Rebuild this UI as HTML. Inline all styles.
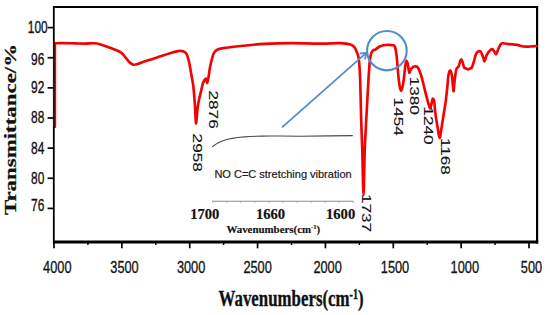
<!DOCTYPE html>
<html><head><meta charset="utf-8"><style>
html,body{margin:0;padding:0;background:#fff;width:550px;height:315px;overflow:hidden;}
svg{display:block;}
</style></head><body>
<svg width="550" height="315" viewBox="0 0 550 315">
<style>
.tk{font-family:"Liberation Sans",sans-serif;font-size:16.8px;fill:#111;stroke:#111;stroke-width:0.35px;}
.tkx{font-family:"Liberation Sans",sans-serif;font-size:17.3px;fill:#111;stroke:#111;stroke-width:0.3px;}
.rl{font-family:"Liberation Sans",sans-serif;font-size:17.2px;fill:#111;stroke:#111;stroke-width:0.15px;}
.ins{font-family:"Liberation Sans",sans-serif;font-size:11px;fill:#1a1a1a;stroke:#1a1a1a;stroke-width:0.2px;}
.insb{font-family:"Liberation Serif",serif;font-weight:bold;font-size:14.6px;fill:#111;stroke:#111;stroke-width:0.2px;}
.insl{font-family:"Liberation Serif",serif;font-weight:bold;font-size:10.9px;fill:#111;stroke:#111;stroke-width:0.15px;}
.ax{font-family:"Liberation Serif",serif;font-weight:bold;fill:#111;stroke:#111;stroke-width:0.35px;}
</style>
<rect width="550" height="315" fill="#fff"/>
<path d="M212.3,146.70 L214.0,145.42 L216.0,144.11 L218.0,142.98 L220.0,142.01 L223.0,140.79 L226.0,139.81 L229.0,139.03 L232.0,138.41 L236.0,137.77 L240.0,137.29 L245.0,136.86 L250.0,136.56 L256.0,136.32 L262.0,136.17 L270.0,136.05 L280.0,135.97 L300.0,136.20 L330.0,135.90 L352.8,135.60" fill="none" stroke="#4a4a4a" stroke-width="1.1"/><line x1="212.2" y1="201.3" x2="353.4" y2="201.3" stroke="#8a8a8a" stroke-width="1.1"/><line x1="212.60" y1="201.3" x2="212.60" y2="202.8" stroke="#999" stroke-width="0.9"/><line x1="226.68" y1="201.3" x2="226.68" y2="202.8" stroke="#999" stroke-width="0.9"/><line x1="240.76" y1="201.3" x2="240.76" y2="202.8" stroke="#999" stroke-width="0.9"/><line x1="254.84" y1="201.3" x2="254.84" y2="202.8" stroke="#999" stroke-width="0.9"/><line x1="268.92" y1="201.3" x2="268.92" y2="202.8" stroke="#999" stroke-width="0.9"/><line x1="283.00" y1="201.3" x2="283.00" y2="202.8" stroke="#999" stroke-width="0.9"/><line x1="297.08" y1="201.3" x2="297.08" y2="202.8" stroke="#999" stroke-width="0.9"/><line x1="311.16" y1="201.3" x2="311.16" y2="202.8" stroke="#999" stroke-width="0.9"/><line x1="325.24" y1="201.3" x2="325.24" y2="202.8" stroke="#999" stroke-width="0.9"/><line x1="339.32" y1="201.3" x2="339.32" y2="202.8" stroke="#999" stroke-width="0.9"/><line x1="353.40" y1="201.3" x2="353.40" y2="202.8" stroke="#999" stroke-width="0.9"/><text x="214.4" y="177.5" class="ins">NO C=C stretching vibration</text><text x="190.2" y="218.6" class="insb">1700</text><text x="255.9" y="218.6" class="insb">1660</text><text x="326.0" y="218.6" class="insb">1600</text><text x="226.4" y="232.6" class="insl">Wavenumbers(cm<tspan dy="-3.4" font-size="6.6">-1</tspan><tspan dy="3.4">)</tspan></text>
<line x1="54" y1="7" x2="537" y2="7" stroke="#000" stroke-width="2.2"/>
<line x1="53.8" y1="6" x2="53.8" y2="243.5" stroke="#000" stroke-width="1.8"/>
<line x1="537.1" y1="6" x2="537.1" y2="243.5" stroke="#000" stroke-width="2.2"/>
<line x1="53" y1="242.1" x2="538.2" y2="242.1" stroke="#000" stroke-width="3"/>
<line x1="55.0" y1="43.30" x2="55.0" y2="127.3" stroke="#f20202" stroke-width="2.4"/>
<path d="M55.60,43.30 C56.67,43.27 58.77,43.08 62.00,43.10 C65.23,43.12 71.17,43.32 75.00,43.40 C78.83,43.48 81.83,43.62 85.00,43.60 C88.17,43.58 91.50,43.18 94.00,43.30 C96.50,43.42 97.33,43.55 100.00,44.30 C102.67,45.05 106.50,46.42 110.00,47.80 C113.50,49.18 118.33,50.88 121.00,52.60 C123.67,54.32 124.58,56.48 126.00,58.10 C127.42,59.72 128.33,61.22 129.50,62.30 C130.67,63.38 131.75,64.27 133.00,64.60 C134.25,64.93 135.00,64.85 137.00,64.30 C139.00,63.75 141.33,62.55 145.00,61.30 C148.67,60.05 154.83,58.13 159.00,56.80 C163.17,55.47 166.83,54.25 170.00,53.30 C173.17,52.35 175.73,51.42 178.00,51.10 C180.27,50.78 182.18,50.95 183.60,51.40 C185.02,51.85 185.63,52.23 186.50,53.80 C187.37,55.37 188.10,57.93 188.80,60.80 C189.50,63.67 189.95,66.77 190.70,71.00 C191.45,75.23 192.60,80.57 193.30,86.20 C194.00,91.83 194.45,98.60 194.90,104.80 C195.35,111.00 195.57,122.73 196.00,123.40 C196.43,124.07 197.00,112.73 197.50,108.80 C198.00,104.87 198.43,102.63 199.00,99.80 C199.57,96.97 200.27,94.48 200.90,91.80 C201.53,89.12 202.17,85.68 202.80,83.70 C203.43,81.72 204.17,80.75 204.70,79.90 C205.23,79.05 205.58,78.12 206.00,78.60 C206.42,79.08 206.78,83.02 207.20,82.80 C207.62,82.58 208.07,79.70 208.50,77.30 C208.93,74.90 209.27,71.32 209.80,68.40 C210.33,65.48 210.98,62.43 211.70,59.80 C212.42,57.17 213.02,54.35 214.10,52.60 C215.18,50.85 216.15,50.12 218.20,49.30 C220.25,48.48 222.32,48.28 226.40,47.70 C230.48,47.12 236.35,46.43 242.70,45.80 C249.05,45.17 256.32,44.35 264.50,43.90 C272.68,43.45 282.72,43.15 291.80,43.10 C300.88,43.05 310.82,43.60 319.00,43.60 C327.18,43.60 335.67,42.97 340.90,43.10 C346.13,43.23 348.13,43.72 350.40,44.40 C352.67,45.08 353.32,45.63 354.50,47.20 C355.68,48.77 356.75,51.53 357.50,53.80 C358.25,56.07 358.55,56.30 359.00,60.80 C359.45,65.30 359.83,70.80 360.20,80.80 C360.57,90.80 360.85,109.13 361.20,120.80 C361.55,132.47 361.92,138.47 362.30,150.80 C362.68,163.13 363.10,194.80 363.50,194.80 C363.90,194.80 364.25,163.13 364.70,150.80 C365.15,138.47 365.77,129.13 366.20,120.80 C366.63,112.47 366.93,107.47 367.30,100.80 C367.67,94.13 367.98,87.47 368.40,80.80 C368.82,74.13 369.33,65.38 369.80,60.80 C370.27,56.22 370.63,55.08 371.20,53.30 C371.77,51.52 372.57,50.68 373.20,50.10 C373.83,49.52 373.92,50.40 375.00,49.80 C376.08,49.20 377.97,47.30 379.70,46.50 C381.43,45.70 383.18,45.22 385.40,45.00 C387.62,44.78 391.40,44.87 393.00,45.20 C394.60,45.53 394.40,45.23 395.00,47.00 C395.60,48.77 396.12,51.83 396.60,55.80 C397.08,59.77 397.52,66.63 397.90,70.80 C398.28,74.97 398.58,78.13 398.90,80.80 C399.22,83.47 399.43,85.13 399.80,86.80 C400.17,88.47 400.63,90.85 401.10,90.80 C401.57,90.75 402.18,88.17 402.60,86.50 C403.02,84.83 403.28,83.08 403.60,80.80 C403.92,78.52 404.18,75.47 404.50,72.80 C404.82,70.13 405.15,66.80 405.50,64.80 C405.85,62.80 406.20,60.87 406.60,60.80 C407.00,60.73 407.57,62.98 407.90,64.40 C408.23,65.82 408.37,67.90 408.60,69.30 C408.83,70.70 409.02,72.63 409.30,72.80 C409.58,72.97 409.92,71.05 410.30,70.30 C410.68,69.55 411.15,68.83 411.60,68.30 C412.05,67.77 412.43,67.43 413.00,67.10 C413.57,66.77 414.17,66.18 415.00,66.30 C415.83,66.42 416.95,66.18 418.00,67.80 C419.05,69.42 420.32,72.95 421.30,76.00 C422.28,79.05 423.05,82.73 423.90,86.10 C424.75,89.47 425.57,93.03 426.40,96.20 C427.23,99.37 428.25,103.08 428.90,105.10 C429.55,107.12 429.87,108.52 430.30,108.30 C430.73,108.08 431.10,105.38 431.50,103.80 C431.90,102.22 432.25,99.22 432.70,98.80 C433.15,98.38 433.77,98.97 434.20,101.30 C434.63,103.63 434.75,108.55 435.30,112.80 C435.85,117.05 436.78,122.63 437.50,126.80 C438.22,130.97 438.95,137.47 439.60,137.80 C440.25,138.13 440.68,132.97 441.40,128.80 C442.12,124.63 443.17,117.47 443.90,112.80 C444.63,108.13 445.22,105.27 445.80,100.80 C446.38,96.33 446.97,90.22 447.40,86.00 C447.83,81.78 447.95,78.12 448.40,75.50 C448.85,72.88 449.52,70.30 450.10,70.30 C450.68,70.30 451.43,72.88 451.90,75.50 C452.37,78.12 452.62,83.40 452.90,86.00 C453.18,88.60 453.32,91.97 453.60,91.10 C453.88,90.23 454.18,84.27 454.60,80.80 C455.02,77.33 455.62,72.50 456.10,70.30 C456.58,68.10 457.03,68.33 457.50,67.60 C457.97,66.87 458.47,66.92 458.90,65.90 C459.33,64.88 459.70,62.58 460.10,61.50 C460.50,60.42 460.87,59.25 461.30,59.40 C461.73,59.55 462.23,61.03 462.70,62.40 C463.17,63.77 463.52,66.58 464.10,67.60 C464.68,68.62 465.57,68.20 466.20,68.50 C466.83,68.80 467.27,69.40 467.90,69.40 C468.53,69.40 469.35,68.80 470.00,68.50 C470.65,68.20 471.12,68.92 471.80,67.60 C472.48,66.28 473.43,62.78 474.10,60.60 C474.77,58.42 475.22,55.95 475.80,54.50 C476.38,53.05 476.78,52.38 477.60,51.90 C478.42,51.42 479.77,50.67 480.70,51.60 C481.63,52.53 482.57,55.88 483.20,57.50 C483.83,59.12 483.98,61.52 484.50,61.30 C485.02,61.08 485.67,57.68 486.30,56.20 C486.93,54.72 487.33,53.58 488.30,52.40 C489.27,51.22 491.08,49.20 492.10,49.10 C493.12,49.00 493.72,50.97 494.40,51.80 C495.08,52.63 495.57,54.52 496.20,54.10 C496.83,53.68 497.52,50.83 498.20,49.30 C498.88,47.77 499.55,45.90 500.30,44.90 C501.05,43.90 501.25,43.43 502.70,43.30 C504.15,43.17 506.62,43.83 509.00,44.10 C511.38,44.37 514.60,44.50 517.00,44.90 C519.40,45.30 521.28,46.23 523.40,46.50 C525.52,46.77 527.52,46.58 529.70,46.50 C531.88,46.42 535.37,46.08 536.50,46.00" fill="none" stroke="#f20202" stroke-width="2.65" stroke-linejoin="round" stroke-linecap="round"/>
<line x1="54.1" y1="41.6" x2="54.1" y2="127.3" stroke="#550a0a" stroke-width="2.0"/>
<path d="M53.6,126.6 L56.2,127.2 L53.6,128.6 Z" fill="#1a0202"/>
<ellipse cx="386.9" cy="50.65" rx="19.8" ry="19.7" fill="none" stroke="#518dc8" stroke-width="2.1"/>
<line x1="282.0" y1="127.3" x2="365.45" y2="53.66" stroke="#518dc8" stroke-width="1.8"/><path d="M359.71,53.39 L366.20,53.00 L365.01,59.39" fill="none" stroke="#518dc8" stroke-width="1.8" stroke-linejoin="miter"/>
<line x1="47.6" y1="27.60" x2="54" y2="27.60" stroke="#000" stroke-width="1.7"/><text transform="translate(37.7,33.10) scale(0.71,1)" text-anchor="middle" class="tk">100</text><line x1="47.6" y1="57.73" x2="54" y2="57.73" stroke="#000" stroke-width="1.7"/><text transform="translate(37.7,64.60) scale(0.71,1)" text-anchor="middle" class="tk">96</text><line x1="47.6" y1="87.86" x2="54" y2="87.86" stroke="#000" stroke-width="1.7"/><text transform="translate(37.7,93.35) scale(0.71,1)" text-anchor="middle" class="tk">92</text><line x1="47.6" y1="118.00" x2="54" y2="118.00" stroke="#000" stroke-width="1.7"/><text transform="translate(37.7,123.00) scale(0.71,1)" text-anchor="middle" class="tk">88</text><line x1="47.6" y1="148.13" x2="54" y2="148.13" stroke="#000" stroke-width="1.7"/><text transform="translate(37.7,154.20) scale(0.71,1)" text-anchor="middle" class="tk">84</text><line x1="47.6" y1="178.26" x2="54" y2="178.26" stroke="#000" stroke-width="1.7"/><text transform="translate(37.7,184.00) scale(0.71,1)" text-anchor="middle" class="tk">80</text><line x1="47.6" y1="208.39" x2="54" y2="208.39" stroke="#000" stroke-width="1.7"/><text transform="translate(37.7,211.40) scale(0.71,1)" text-anchor="middle" class="tk">76</text><line x1="54.00" y1="242" x2="54.00" y2="248.3" stroke="#000" stroke-width="1.7"/><text transform="translate(57.30,273.3) scale(0.74,1)" text-anchor="middle" class="tkx">4000</text><line x1="121.86" y1="242" x2="121.86" y2="248.3" stroke="#000" stroke-width="1.7"/><text transform="translate(124.50,273.3) scale(0.74,1)" text-anchor="middle" class="tkx">3500</text><line x1="189.71" y1="242" x2="189.71" y2="248.3" stroke="#000" stroke-width="1.7"/><text transform="translate(191.10,273.3) scale(0.74,1)" text-anchor="middle" class="tkx">3000</text><line x1="257.57" y1="242" x2="257.57" y2="248.3" stroke="#000" stroke-width="1.7"/><text transform="translate(257.60,273.3) scale(0.74,1)" text-anchor="middle" class="tkx">2500</text><line x1="325.43" y1="242" x2="325.43" y2="248.3" stroke="#000" stroke-width="1.7"/><text transform="translate(327.60,273.3) scale(0.74,1)" text-anchor="middle" class="tkx">2000</text><line x1="393.29" y1="242" x2="393.29" y2="248.3" stroke="#000" stroke-width="1.7"/><text transform="translate(395.00,273.3) scale(0.74,1)" text-anchor="middle" class="tkx">1500</text><line x1="461.14" y1="242" x2="461.14" y2="248.3" stroke="#000" stroke-width="1.7"/><text transform="translate(464.80,273.3) scale(0.74,1)" text-anchor="middle" class="tkx">1000</text><line x1="529.00" y1="242" x2="529.00" y2="248.3" stroke="#000" stroke-width="1.7"/><text transform="translate(531.50,273.3) scale(0.74,1)" text-anchor="middle" class="tkx">500</text><line x1="87.93" y1="242" x2="87.93" y2="245" stroke="#000" stroke-width="1.4"/><line x1="155.79" y1="242" x2="155.79" y2="245" stroke="#000" stroke-width="1.4"/><line x1="223.64" y1="242" x2="223.64" y2="245" stroke="#000" stroke-width="1.4"/><line x1="291.50" y1="242" x2="291.50" y2="245" stroke="#000" stroke-width="1.4"/><line x1="359.36" y1="242" x2="359.36" y2="245" stroke="#000" stroke-width="1.4"/><line x1="427.21" y1="242" x2="427.21" y2="245" stroke="#000" stroke-width="1.4"/><line x1="495.07" y1="242" x2="495.07" y2="245" stroke="#000" stroke-width="1.4"/><text transform="translate(192.70,133.60) scale(0.78,1) rotate(90)" class="rl">2958</text><text transform="translate(208.60,90.50) scale(0.78,1) rotate(90)" class="rl">2876</text><text transform="translate(362.40,193.90) scale(0.78,1) rotate(90)" class="rl">1737</text><text transform="translate(393.60,97.60) scale(0.78,1) rotate(90)" class="rl">1454</text><text transform="translate(409.80,76.70) scale(0.78,1) rotate(90)" class="rl">1380</text><text transform="translate(423.60,106.40) scale(0.78,1) rotate(90)" class="rl">1240</text><text transform="translate(441.30,137.90) scale(0.78,1) rotate(90)" class="rl">1168</text>
<text transform="translate(218.6,306.0) scale(0.72,1)" class="ax" font-size="23.4">Wavenumbers(cm<tspan dy="-7.1" font-size="14">-1</tspan><tspan dy="7.1">)</tspan></text>
<text transform="translate(15.9,215.1) scale(0.735,1) rotate(-90)" class="ax" font-size="22.9">Transmittance/%</text>
</svg>
</body></html>
